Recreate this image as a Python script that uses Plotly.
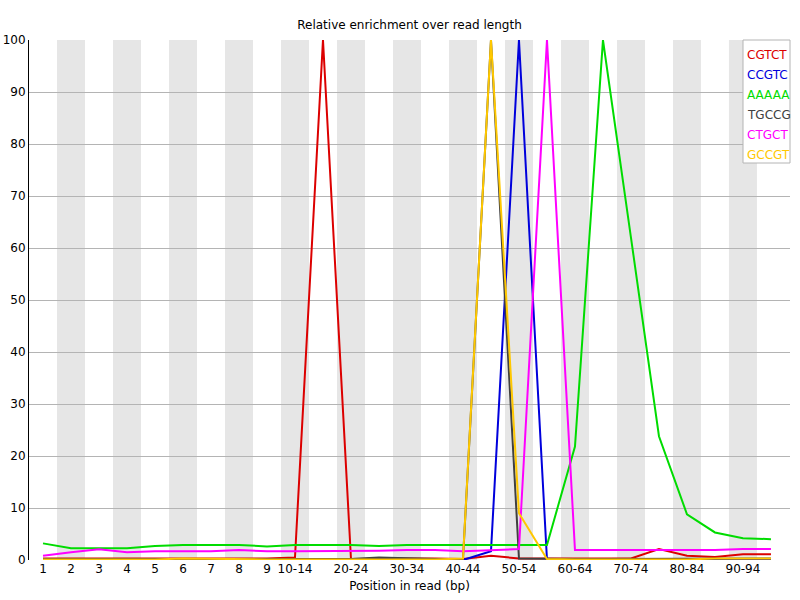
import plotly.graph_objects as go

categories = ["1", "2", "3", "4", "5", "6", "7", "8", "9", "10-14", "15-19", "20-24",
              "25-29", "30-34", "35-39", "40-44", "45-49", "50-54", "55-59", "60-64",
              "65-69", "70-74", "75-79", "80-84", "85-89", "90-94", "95-99"]
tick_labels = ["1", "2", "3", "4", "5", "6", "7", "8", "9", "10-14", "20-24", "30-34",
               "40-44", "50-54", "60-64", "70-74", "80-84", "90-94"]

cgtct = [0.3, 0.3, 0.3, 0.3, 0.3, 0.3, 0.3, 0.3, 0.3, 0.5, 100, 0.2, 0.3, 0.3, 0.3, 0.2,
         0.8, 0.3, 0.3, 0.3, 0.3, 0.3, 2.1, 0.8, 0.6, 1.1, 1.1]
ccgtc = [0.1, 0.1, 0.1, 0.1, 0.1, 0.1, 0.2, 0.1, 0.1, 0.2, 0.2, 0.1, 0.3, 0.2, 0.1, 0.0,
         1.7, 100, 0.1, 0.1, 0.1, 0.1, 0.1, 0.1, 0.1, 0.1, 0.1]
aaaaa = [3.2, 2.25, 2.25, 2.25, 2.7, 2.9, 2.9, 2.9, 2.6, 2.9, 2.9, 2.9, 2.7, 2.9, 2.9, 2.9,
         2.9, 2.9, 2.9, 21.8, 100, 62, 23.8, 8.8, 5.3, 4.2, 4.0]
tgccg = [0.2, 0.2, 0.2, 0.2, 0.2, 0.2, 0.2, 0.2, 0.2, 0.2, 0.2, 0.2, 0.5, 0.3, 0.2, 0.1,
         100, 0.3, 0.2, 0.2, 0.2, 0.2, 0.2, 0.2, 0.3, 0.3, 0.3]
ctgct = [0.8, 1.5, 2.05, 1.5, 1.7, 1.7, 1.7, 1.9, 1.7, 1.7, 1.7, 1.7, 1.8, 1.9, 1.9, 1.7,
         1.9, 2.1, 100, 1.9, 1.9, 1.9, 1.9, 1.9, 1.9, 2.1, 2.1]
gccgt = [0.1, 0.1, 0.1, 0.1, 0.1, 0.3, 0.2, 0.1, 0.1, 0.1, 0.1, 0.1, 0.2, 0.2, 0.1, 0.3,
         100, 9.0, 0.2, 0.1, 0.1, 0.1, 0.1, 0.1, 0.3, 0.3, 0.3]

series = [("CGTCT", cgtct, "rgb(220,0,0)"),
          ("CCGTC", ccgtc, "rgb(0,0,220)"),
          ("AAAAA", aaaaa, "rgb(0,220,0)"),
          ("TGCCG", tgccg, "rgb(64,64,64)"),
          ("CTGCT", ctgct, "rgb(255,0,255)"),
          ("GCCGT", gccgt, "rgb(255,200,0)")]

x_idx = list(range(len(categories)))
font = "DejaVu Sans, sans-serif"

W, H = 800, 600
PL, PR, PT, PB = 29, 10, 40, 40
PW = W - PL - PR
PH = H - PT - PB

fig = go.Figure()
for name, vals, col in series:
    fig.add_trace(go.Scatter(x=x_idx, y=vals, mode="lines", name=name,
                             line=dict(color=col, width=2), showlegend=False))

shapes = []
for i in x_idx:
    if i % 2 == 1:
        shapes.append(dict(type="rect", xref="x", yref="paper", x0=i - 0.5, x1=i + 0.5,
                           y0=0, y1=1, fillcolor="rgb(230,230,230)", line=dict(width=0),
                           layer="below"))
# legend box
shapes.append(dict(type="rect", xref="paper", yref="paper", x0=(743 - PL) / PW, x1=1.0,
                   y0=1 - 123 / PH, y1=1, fillcolor="white",
                   line=dict(color="rgb(180,180,180)", width=1), layer="above"))

annotations = []
for k, (name, vals, col) in enumerate(series):
    annotations.append(dict(text=name, xref="paper", yref="paper", x=(745 - PL) / PW,
                            y=1 - (15 + 20 * k) / PH, xanchor="left", yanchor="middle",
                            showarrow=False, font=dict(family=font, size=12, color=col)))

tickvals = [categories.index(t) for t in tick_labels]

fig.update_layout(
    width=W, height=H,
    margin=dict(l=PL, r=PR, t=PT, b=PB, autoexpand=False),
    paper_bgcolor="white", plot_bgcolor="white",
    title=dict(text="Relative enrichment over read length", x=0.5, xref="paper",
               xanchor="center", y=1 - 25 / H, yanchor="middle",
               font=dict(family=font, size=12, color="black")),
    font=dict(family=font, size=12, color="black"),
    shapes=shapes, annotations=annotations,
    xaxis=dict(range=[-0.5, 26.68], tickmode="array", tickvals=tickvals, ticktext=tick_labels,
               showgrid=False, zeroline=False, showline=False, automargin=False,
               ticks="", tickfont=dict(family=font, size=12, color="black"),
               title=dict(text="Position in read (bp)", standoff=6,
                          font=dict(family=font, size=12, color="black"))),
    yaxis=dict(range=[0, 100], tickvals=list(range(0, 101, 10)), showgrid=True,
               gridcolor="rgb(180,180,180)", gridwidth=1, zeroline=False, automargin=False,
               showline=True, linecolor="black", linewidth=1, ticks="",
               tickfont=dict(family=font, size=12, color="black")),
)

fig.write_html("out.html", config={"displayModeBar": False},
               post_script="document.body.style.margin='0';")
